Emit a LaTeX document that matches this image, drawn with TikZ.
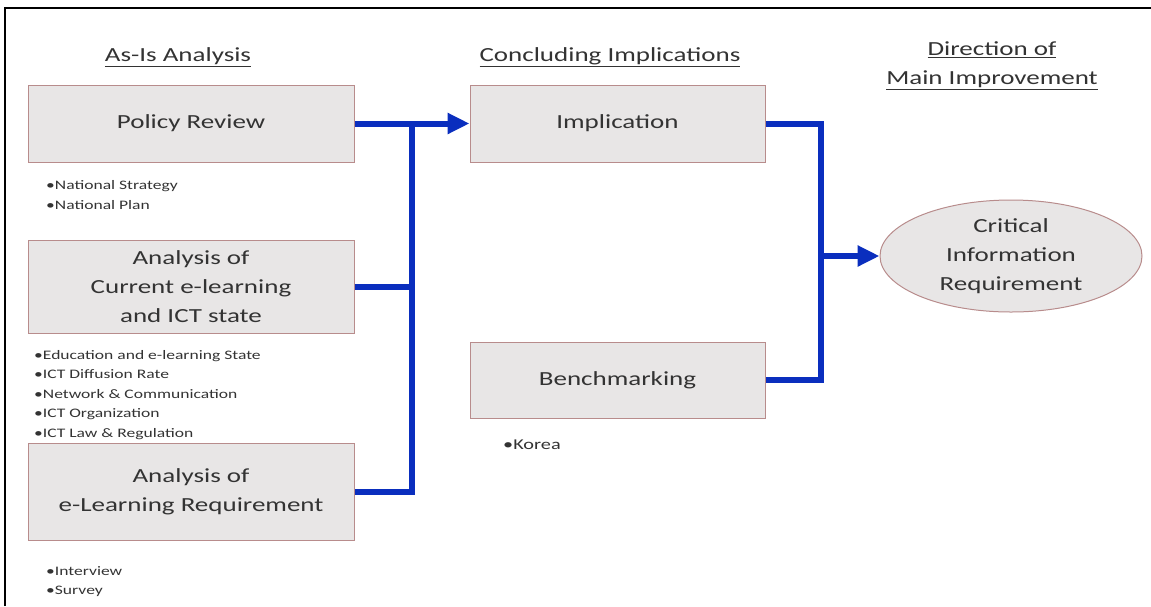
\documentclass[tikz,border=0pt]{standalone}
\usepackage{fontspec}
\setmainfont{Carlito}[FakeStretch=1.35]
\usepackage{xcolor}
\usetikzlibrary{arrows.meta,shapes.geometric,calc}

\definecolor{boxfill}{HTML}{E8E6E6}
\definecolor{boxline}{HTML}{B88C8C}
\definecolor{busblue}{HTML}{0A2EBE}
\definecolor{inkgray}{HTML}{333333}

\begin{document}
\begin{tikzpicture}[x=1pt,y=-1pt,
    stage/.style={draw=boxline, fill=boxfill, line width=1pt, inner sep=0pt, align=center,
                  text=inkgray, font=\fontsize{20}{29}\selectfont},
    heading/.style={text=inkgray, align=center, inner sep=0pt, font=\fontsize{20}{29}\selectfont},
    notes/.style={anchor=north west, align=left, inner sep=0pt, text=inkgray},
    bus/.style={draw=busblue, line width=6pt},
    tip/.style={-{Triangle[length=22pt,width=20pt]}}]
    \useasboundingbox (0,0) rectangle (1151,606);
    \draw[line width=2pt] (5,606) -- (5,8) -- (1151,8);

    % Column headings
    \node[heading] (hasis) at (178,57) {\underline{As-Is Analysis}};
    \node[heading] (hconc) at (610,57) {\underline{Concluding Implications}};
    \node[heading] (hdir) at (992,66) {\underline{Direction of}\\\underline{Main Improvement}};

    % As-is analysis
    \node[stage, minimum width=326, minimum height=77] (pol) at (191,123.5) {Policy Review};
    \node[notes, font=\fontsize{13}{20}\selectfont] (polnote) at (46,180)
        {\textbullet National Strategy\\\textbullet National Plan};

    \node[stage, minimum width=326, minimum height=93] (cur) at (191,286.5)
        {Analysis of\\Current e-learning\\and ICT state};
    \node[notes, font=\fontsize{13}{19.5}\selectfont] (curnote) at (34,350)
        {\textbullet Education and e-learning State\\\textbullet ICT Diffusion Rate\\
         \textbullet Network \& Communication\\\textbullet ICT Organization\\
         \textbullet ICT Law \& Regulation};

    \node[stage, minimum width=326, minimum height=97] (elr) at (191,491.5)
        {Analysis of\\e-Learning Requirement};
    \node[notes, font=\fontsize{13}{19}\selectfont] (elrnote) at (46,566)
        {\textbullet Interview\\\textbullet Survey};

    % Concluding implications
    \node[stage, minimum width=295, minimum height=77] (imp) at (617.5,123.5) {Implication};
    \node[stage, minimum width=295, minimum height=76] (ben) at (617.5,380) {Benchmarking};
    \node[notes, font=\fontsize{15}{20}\selectfont] (bennote) at (503,440) {\textbullet Korea};

    % Direction
    \node[stage, ellipse, minimum width=262, minimum height=112] (cir) at (1011,256)
        {Critical\\Information\\Requirement};

    % Connectors
    \coordinate (lbus) at (412,123.5);
    \coordinate (rbus) at (821,123.5);
    \draw[bus, tip] (pol.east) -- (imp.west);
    \draw[bus] (cur.east) -- (cur.east -| lbus);
    \draw[bus] (lbus) -- (lbus |- elr.east) -- (elr.east);
    \draw[bus] (imp.east) -- (rbus) -- (rbus |- ben.east) -- (ben.east);
    \draw[bus, tip] (rbus |- cir.west) -- (cir.west);
\end{tikzpicture}
\end{document}
